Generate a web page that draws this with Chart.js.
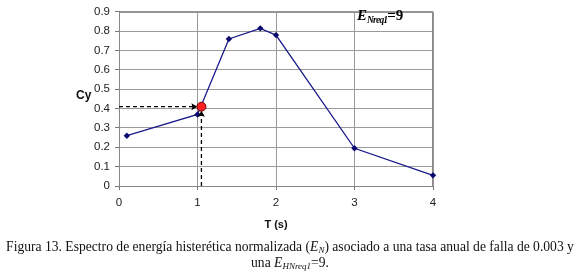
<!DOCTYPE html>
<html><head><meta charset="utf-8">
<script src="https://cdn.jsdelivr.net/npm/chart.js@4/dist/chart.umd.min.js"></script>
<style>
html,body{margin:0;padding:0;background:#fff;width:580px;height:272px;overflow:hidden;}
#wrap{position:relative;width:580px;height:272px;}
canvas{position:absolute;left:0;top:0;}
.t{position:absolute;white-space:nowrap;}
#cy{left:76px;top:88px;font:bold 12px "Liberation Sans",Arial,sans-serif;color:#111;}
#en{left:357px;top:7px;font:bold 15px "Liberation Serif","Times New Roman",serif;color:#000;}
#en i{font-style:italic;}
#en sub{font-size:9.5px;vertical-align:-3px;letter-spacing:-0.8px;font-style:italic;}
.cap{font:13.6px "Liberation Serif","Times New Roman",serif;color:#111;left:0;width:580px;text-align:center;}
.cap sub{font-size:9px;font-style:italic;vertical-align:-2px;}
#c1{top:239px;}
#c2{top:255px;}
</style></head>
<body><div id="wrap">
<canvas id="ch" width="580" height="272"></canvas>
<div class="t" id="cy">Cy</div>
<div class="t" id="en"><i>E</i><sub>Nreq1</sub>=9</div>
<div class="t cap" id="c1">Figura 13. Espectro de energía histerética normalizada (<i>E<sub>N</sub></i>) asociado a una tasa anual de falla de 0.003 y</div>
<div class="t cap" id="c2">una <i>E<sub>HNreq1</sub></i>=9.</div>
</div>
<script>
const periods = [0.1, 1.0, 1.4, 1.8, 2.0, 3.0, 4.0];
const cyValues = [0.26, 0.37, 0.76, 0.815, 0.78, 0.195, 0.055];
const markT = [1.05];
const markCy = [0.41];
const xTicks = [0, 1, 2, 3, 4];
const yTicks = [0, 0.1, 0.2, 0.3, 0.4, 0.5, 0.6, 0.7, 0.8, 0.9];

const arrows = {
  id: 'arrows',
  afterDatasetsDraw(chart) {
    const {ctx, scales:{x, y}} = chart;
    const px = x.getPixelForValue(markT[0]);
    const py = y.getPixelForValue(markCy[0]);
    const x0 = x.getPixelForValue(xTicks[0]);
    const y0 = y.getPixelForValue(yTicks[0]);
    ctx.save();
    ctx.strokeStyle = '#000';
    ctx.fillStyle = '#000';
    ctx.lineWidth = 1.3;
    ctx.setLineDash([4, 3]);
    ctx.beginPath();
    ctx.moveTo(x0, py); ctx.lineTo(px - 7, py);
    ctx.moveTo(px, y0); ctx.lineTo(px, py + 7);
    ctx.stroke();
    ctx.setLineDash([]);
    ctx.beginPath();
    ctx.moveTo(px - 4, py); ctx.lineTo(px - 10, py - 3.5); ctx.lineTo(px - 9, py); ctx.lineTo(px - 10, py + 3.5); ctx.closePath(); ctx.fill();
    ctx.beginPath();
    ctx.moveTo(px, py + 4); ctx.lineTo(px - 3.5, py + 10); ctx.lineTo(px, py + 9); ctx.lineTo(px + 3.5, py + 10); ctx.closePath(); ctx.fill();
    ctx.beginPath();
    ctx.arc(px, py, 4.5, 0, Math.PI * 2);
    ctx.fillStyle = '#ff2020';
    ctx.fill();
    ctx.lineWidth = 1;
    ctx.strokeStyle = '#600';
    ctx.stroke();
    ctx.restore();
  }
};

new Chart(document.getElementById('ch'), {
  type: 'scatter',
  data: {
    datasets: [{
      data: periods.map((t, i) => ({x: t, y: cyValues[i]})),
      showLine: true,
      clip: false,
      borderColor: '#1a1a8c',
      borderWidth: 1.3,
      backgroundColor: '#0a0a70',
      pointStyle: 'rectRot',
      pointRadius: 3.2,
      pointBorderWidth: 0,
      tension: 0
    }]
  },
  options: {
    responsive: false,
    animation: false,
    events: [],
    plugins: {legend: {display: false}, tooltip: {enabled: false}},
    layout: {padding: {left: 0, top: 4, right: 147, bottom: 36}},
    scales: {
      x: {
        type: 'linear', min: 0, max: 4,
        afterBuildTicks(s) { s.ticks = xTicks.map(v => ({value: v})); },
        afterFit(s) { s.height = 50; },
        ticks: {color: '#222', font: {family: 'Liberation Sans', size: 11.5}, padding: 6},
        grid: {color: '#9a9a9a', lineWidth: 1, tickLength: 4, tickColor: '#777'},
        border: {color: '#777', width: 1},
        title: {display: true, text: 'T (s)', color: '#111', font: {family: 'Liberation Sans', size: 11, weight: 'bold'}, padding: {top: 4}}
      },
      y: {
        type: 'linear', min: 0, max: 0.9,
        afterBuildTicks(s) { s.ticks = yTicks.map(v => ({value: v})); },
        afterFit(s) { s.width = 119; },
        ticks: {color: '#222', font: {family: 'Liberation Sans', size: 11.5}, padding: 5, callback: v => String(Math.round(v * 10) / 10)},
        grid: {color: '#9a9a9a', lineWidth: 1, tickLength: 4, tickColor: '#777'},
        border: {color: '#777', width: 1}
      }
    }
  },
  plugins: [arrows, {
    id: 'frame',
    beforeDatasetsDraw(chart) {
      const {ctx, chartArea: a} = chart;
      ctx.save();
      ctx.strokeStyle = '#888';
      ctx.lineWidth = 1;
      ctx.strokeRect(a.left + 0.5, a.top + 0.5, a.right - a.left - 1, a.bottom - a.top);
      ctx.restore();
    }
  }]
});
</script>
</body></html>
